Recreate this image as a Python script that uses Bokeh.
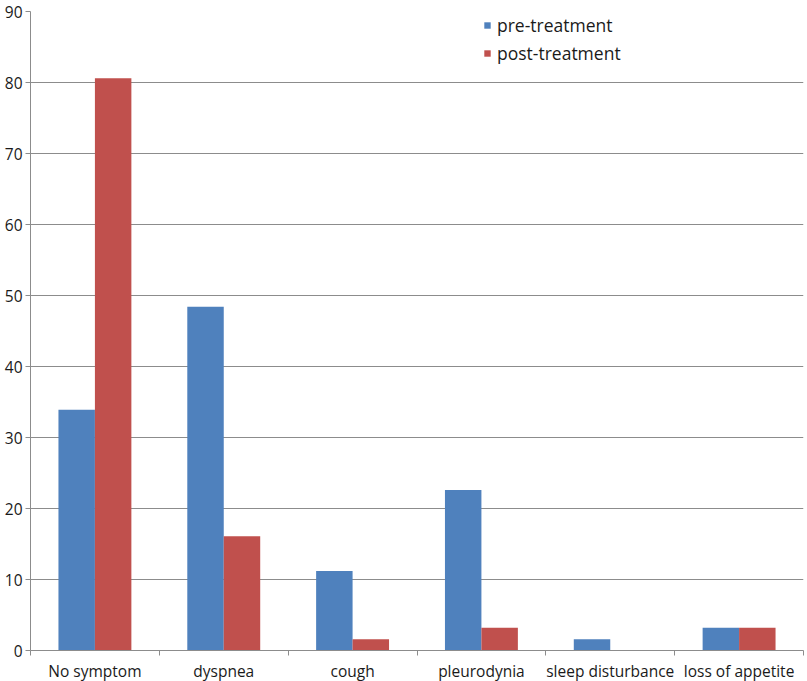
import numpy as np
from bokeh.plotting import figure
from bokeh.models import ColumnDataSource, FixedTicker, Range1d, Legend, LegendItem
from bokeh.transform import dodge
from bokeh.embed import file_html
from bokeh.resources import INLINE

categories = ["No symptom", "dyspnea", "cough", "pleurodynia", "sleep disturbance", "loss of appetite"]
pre_treatment = [33.9, 48.4, 11.2, 22.6, 1.6, 3.2]
post_treatment = [80.6, 16.1, 1.6, 3.2, 0.0, 3.2]
y_ticks = [0, 10, 20, 30, 40, 50, 60, 70, 80, 90]

BLUE = "#4F81BD"
RED = "#C0504D"
GRID = "#8C8C8C"
FONT = "Open Sans"

xc = np.arange(len(categories)) + 0.5
src = ColumnDataSource(dict(x=xc, pre=pre_treatment, post=post_treatment))

p = figure(output_backend="svg", toolbar_location=None,
           x_range=Range1d(0, len(categories)), y_range=Range1d(0, 90),
           frame_width=773, frame_height=639,
           min_border_left=30, min_border_top=11, min_border_right=2, min_border_bottom=10)
p.outline_line_color = None
p.background_fill_color = "white"
p.border_fill_color = "white"

r1 = p.vbar(x=dodge("x", -0.1415, range=p.x_range), top="pre", width=0.283, source=src,
            fill_color=BLUE, line_color=None)
r2 = p.vbar(x=dodge("x", 0.1415, range=p.x_range), top="post", width=0.283, source=src,
            fill_color=RED, line_color=None)

# x axis: labels at category centers, tick marks at boundaries
xa = p.xaxis[0]
xa.ticker = FixedTicker(ticks=list(xc), minor_ticks=list(range(len(categories) + 1)))
xa.major_label_overrides = {float(v): c for v, c in zip(xc, categories)}
xa.major_tick_line_color = None
xa.major_tick_out = 5
xa.major_tick_in = 0
xa.minor_tick_line_color = GRID
xa.minor_tick_in = 0
xa.minor_tick_out = 5
xa.axis_line_color = GRID
xa.major_label_text_font = FONT
xa.major_label_text_font_size = "15.5px"
xa.major_label_text_color = "#1a1a1a"
xa.major_label_standoff = 4

ya = p.yaxis[0]
ya.ticker = FixedTicker(ticks=y_ticks)
ya.axis_line_color = GRID
ya.major_tick_line_color = GRID
ya.major_tick_in = 0
ya.major_tick_out = 5
ya.minor_tick_line_color = None
ya.major_label_text_font = FONT
ya.major_label_text_font_size = "15.5px"
ya.major_label_text_color = "#1a1a1a"
ya.major_label_standoff = 3

p.xgrid.grid_line_color = None
p.ygrid.grid_line_color = GRID
p.ygrid.grid_line_width = 1

legend = Legend(items=[LegendItem(label="pre-treatment", renderers=[r1]),
                       LegendItem(label="post-treatment", renderers=[r2])],
                location=(453, 585))
legend.border_line_color = None
legend.background_fill_alpha = 0
legend.padding = 0
legend.margin = 0
legend.spacing = 4
legend.glyph_width = 8
legend.glyph_height = 8
legend.label_height = 22
legend.label_standoff = 6
legend.label_text_font = FONT
legend.label_text_font_size = "17.5px"
legend.label_text_color = "#1a1a1a"
p.add_layout(legend, "center")

open("out.html", "w").write(file_html(p, INLINE))
